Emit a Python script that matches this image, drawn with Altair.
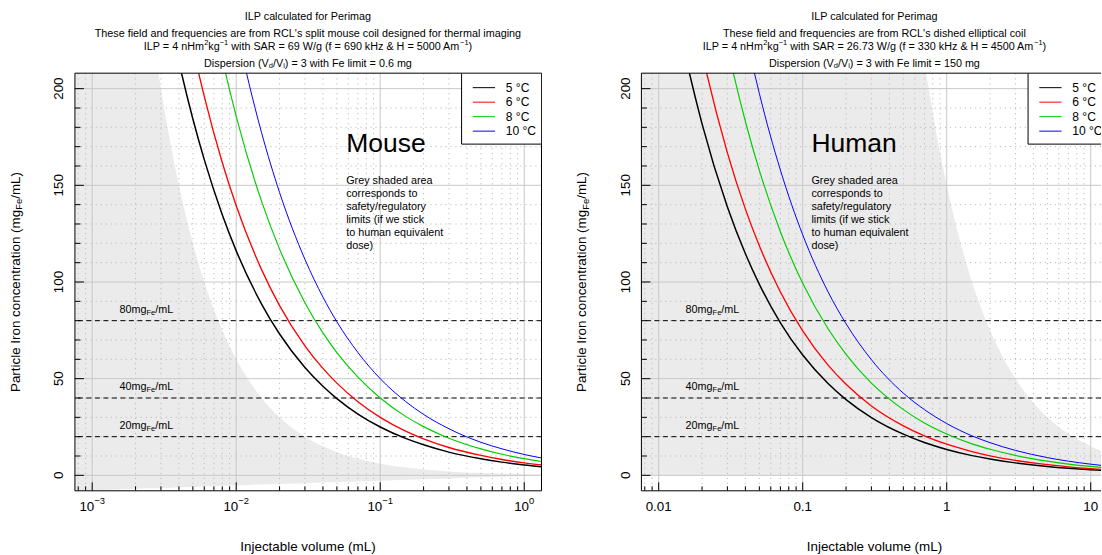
import altair as alt
import pandas as pd

FONT = "Liberation Sans"

# ------------------------------------------------------------------ data
temps = ["5 °C", "6 °C", "8 °C", "10 °C"]
line_colors = ["#000000", "#ff0000", "#00cd00", "#0000ff"]

# Mouse panel: particle iron concentration (mgFe/mL) vs injectable volume (mL)
mouse_volume = [0.003, 0.004, 0.005, 0.006, 0.008, 0.01, 0.015, 0.02, 0.03, 0.04,
                0.05, 0.07, 0.1, 0.15, 0.2, 0.3, 0.5, 0.7, 1.0, 1.32]
mouse_5C = [259.2, 213.9, 184.3, 163.3, 134.8, 116.1, 88.6, 73.1, 55.8, 46.1,
            39.7, 31.7, 25.0, 19.1, 15.8, 12.0, 8.55, 6.83, 5.39, 4.48]
mouse_6C = [311.1, 256.8, 221.3, 196.0, 161.8, 139.4, 106.4, 87.8, 67.0, 55.3,
            47.7, 38.1, 30.0, 22.9, 18.9, 14.4, 10.3, 8.20, 6.47, 5.38]
mouse_8C = [414.4, 342.1, 294.8, 261.1, 215.5, 185.7, 141.7, 117.0, 89.3, 73.7,
            63.5, 50.8, 40.0, 30.5, 25.2, 19.2, 13.7, 10.9, 8.62, 7.16]
mouse_10C = [518.3, 427.9, 368.7, 326.5, 269.5, 232.2, 177.2, 146.3, 111.7, 92.2,
             79.4, 63.5, 50.0, 38.2, 31.5, 24.1, 17.1, 13.7, 10.78, 8.96]
mouse_shade_volume = [0.00076, 0.0015, 0.0025, 0.003, 0.0035, 0.004, 0.005, 0.006,
                      0.008, 0.01, 0.0125, 0.015, 0.02, 0.025, 0.03, 0.04, 0.05,
                      0.06, 0.08, 0.1, 0.15, 0.2, 0.3, 0.5, 0.7, 1.0, 1.32]
mouse_shade_top = [789, 400, 240, 200, 171.4, 150, 120, 100, 75, 60, 48, 40, 30,
                   24, 20, 15, 12, 10, 7.5, 6, 4, 3, 2, 1.2, 0.86, 0.6, 0.45]
mouse_shade_bottom = [-8.0, -7.27, -6.72, -6.53, -6.36, -6.22, -5.98, -5.78, -5.47,
                      -5.23, -4.99, -4.80, -4.49, -4.25, -4.06, -3.75, -3.51, -3.31,
                      -3.01, -2.77, -2.33, -2.02, -1.59, -1.04, -0.68, -0.30, 0.0]
mouse_x_major = [0.001, 0.01, 0.1, 1.0]
mouse_x_minor = [0.0008, 0.0009, 0.002, 0.003, 0.004, 0.005, 0.006, 0.007, 0.008, 0.009,
                 0.02, 0.03, 0.04, 0.05, 0.06, 0.07, 0.08, 0.09,
                 0.2, 0.3, 0.4, 0.5, 0.6, 0.7, 0.8, 0.9]
mouse_x_exponents = ["−3", "−2", "−1", "0"]

# Human panel
human_volume = [0.01, 0.015, 0.02, 0.03, 0.04, 0.05, 0.07, 0.1, 0.15, 0.2, 0.3,
                0.5, 0.7, 1.0, 1.5, 2.0, 3.0, 5.0, 7.0, 10.0, 12.5]
human_5C = [288.6, 220.3, 181.8, 138.8, 114.6, 98.8, 78.9, 62.2, 47.5, 39.2, 29.9,
            21.3, 17.0, 13.4, 10.2, 8.44, 6.45, 4.58, 3.66, 2.89, 2.49]
human_6C = [346.8, 264.7, 218.5, 166.8, 137.7, 118.7, 94.8, 74.7, 57.0, 47.1, 35.9,
            25.6, 20.4, 16.1, 12.3, 10.1, 7.74, 5.51, 4.40, 3.47, 2.99]
human_8C = [461.0, 351.8, 290.4, 221.7, 183.0, 157.7, 126.0, 99.3, 75.8, 62.6, 47.7,
            34.0, 27.1, 21.4, 16.3, 13.5, 10.3, 7.32, 5.84, 4.61, 3.97]
human_10C = [577.3, 440.6, 363.7, 277.6, 229.1, 197.5, 157.9, 124.4, 94.9, 78.4, 59.8,
             42.5, 34.0, 26.8, 20.4, 16.9, 12.9, 9.17, 7.32, 5.77, 4.97]
human_shade_volume = [0.0076, 0.3, 0.5, 0.6, 0.72, 0.85, 1.0, 1.25, 1.5, 2.0, 2.5,
                      3.0, 4.0, 5.0, 6.0, 8.0, 10.0, 12.5]
human_shade_top = [19700, 500, 300, 250, 208.3, 176.5, 150, 120, 100, 75, 60,
                   50, 37.5, 30, 25, 18.75, 15, 12]
human_shade_bottom = [0, 0, 0, 0, 0, 0, 0, 0, 0, 0, 0, 0, 0, 0, 0, 0, 0, 0]
human_x_major = [0.01, 0.1, 1.0, 10.0]
human_x_minor = [0.008, 0.009, 0.02, 0.03, 0.04, 0.05, 0.06, 0.07, 0.08, 0.09,
                 0.2, 0.3, 0.4, 0.5, 0.6, 0.7, 0.8, 0.9,
                 2, 3, 4, 5, 6, 7, 8, 9]
human_x_labels = ["0.01", "0.1", "1", "10"]

y_major = [0, 50, 100, 150, 200]
y_minor = [10, 20, 30, 40, 60, 70, 80, 90, 110, 120, 130, 140, 160, 170, 180, 190]
y_labels = ["0", "50", "100", "150", "200"]
dashed_levels = [80, 40, 20]
dashed_texts = ["80mg", "40mg", "20mg"]

mouse_title = [
    [("ILP calculated for Perimag", "n")],
    [("These field and frequencies are from RCL's split mouse coil designed for thermal imaging", "n")],
    [("ILP = 4 nHm", "n"), ("2", "sup"), ("kg", "n"), ("−1", "sup"),
     (" with SAR = 69 W/g (f = 690 kHz & H = 5000 Am", "n"), ("−1", "sup"), (")", "n")],
    [("Dispersion (V", "n"), ("d", "sub"), ("/V", "n"), ("i", "sub"),
     (") = 3 with Fe limit = 0.6 mg", "n")],
]
human_title = [
    [("ILP calculated for Perimag", "n")],
    [("These field and frequencies are from RCL's dished elliptical coil", "n")],
    [("ILP = 4 nHm", "n"), ("2", "sup"), ("kg", "n"), ("−1", "sup"),
     (" with SAR = 26.73 W/g (f = 330 kHz & H = 4500 Am", "n"), ("−1", "sup"), (")", "n")],
    [("Dispersion (V", "n"), ("d", "sub"), ("/V", "n"), ("i", "sub"),
     (") = 3 with Fe limit = 150 mg", "n")],
]
y_title = [("Particle Iron concentration (mg", "n"), ("Fe", "sub"), ("/mL)", "n")]
x_title = "Injectable volume (mL)"
note_text = "Grey shaded area\ncorresponds to\nsafety/regulatory\nlimits (if we stick\nto human equivalent\ndose)"

# ------------------------------------------------------------------ text metrics (Arial/Helvetica widths)
HELV = {" ": 278, "(": 333, ")": 333, "/": 278, ".": 278, ",": 278, "=": 584, "&": 667,
        "'": 191, "-": 333, "−": 584, "°": 400, ":": 278}
for ch in "0123456789":
    HELV[ch] = 556
HELV.update(dict(zip("abcdefghijklmnopqrstuvwxyz",
                     [556, 556, 500, 556, 556, 278, 556, 556, 222, 222, 500, 222, 833,
                      556, 556, 556, 556, 333, 500, 278, 556, 500, 722, 500, 500, 500])))
HELV.update(dict(zip("ABCDEFGHIJKLMNOPQRSTUVWXYZ",
                     [667, 667, 722, 722, 667, 611, 778, 722, 278, 500, 667, 556, 833,
                      722, 778, 667, 778, 722, 667, 611, 722, 667, 944, 667, 667, 611])))


def tw(s, fs):
    return sum(HELV.get(c, 556) for c in s) * fs / 1000.0


def seg_rows(segs, fs, small, ax, ay, sup_dy=-4.0, sub_dy=2.5, vertical=False):
    widths = [tw(t, fs if k == "n" else small) for t, k in segs]
    pos = -sum(widths) / 2.0
    rows = []
    for (t, k), w in zip(segs, widths):
        size = fs if k == "n" else small
        lead = tw(t[: len(t) - len(t.lstrip(" "))], size)
        off = {"n": 0.0, "sup": sup_dy, "sub": sub_dy}[k]
        if vertical:
            rows.append(dict(px=ax + off, py=ay - (pos + lead), txt=t.strip(), fs=size))
        else:
            rows.append(dict(px=ax + pos + lead, py=ay + off, txt=t.strip(), fs=size))
        pos += w
    return rows


# ------------------------------------------------------------------ layout constants
H = 418
YDOM = [-8, 208]
DEC = 144.14          # pixels per decade in the reference
FS_SMALL = 10.8
FS_SCRIPT = 7.5
FS_AXIS = 13.4
FS_LEG = 12.1
GRID_SOLID = "#c8c8c8"
GRID_DOT = "#bcbcbc"
DOT = [1.2, 3.8]


def panel(p):
    W = p["w"]
    xs = alt.Scale(type="log", domain=p["xdom"], nice=False)
    ys = alt.Scale(domain=YDOM, nice=False, zero=False)

    def X(f):
        return alt.X(f, type="quantitative", scale=xs, axis=None)

    def Y(f):
        return alt.Y(f, type="quantitative", scale=ys, axis=None)

    def PX(f):
        return alt.X(f, type="quantitative", scale=None, axis=None)

    def PY(f):
        return alt.Y(f, type="quantitative", scale=None, axis=None)

    L = []
    # shaded safety area
    shade = pd.DataFrame({"v": p["shade_v"], "top": p["shade_top"], "bot": p["shade_bot"]})
    L.append(alt.Chart(shade).mark_area(color="#ebebeb", clip=True, interpolate="monotone")
             .encode(x=X("v"), y=Y("top"), y2=alt.Y2("bot")))
    # grid
    L.append(alt.Chart(pd.DataFrame({"v": p["xmaj"]})).mark_rule(color=GRID_SOLID, strokeWidth=1, clip=True)
             .encode(x=X("v")))
    L.append(alt.Chart(pd.DataFrame({"v": p["xmin"]})).mark_rule(color=GRID_DOT, strokeWidth=1,
                                                                   strokeDash=DOT, clip=True)
             .encode(x=X("v")))
    L.append(alt.Chart(pd.DataFrame({"c": y_major})).mark_rule(color=GRID_SOLID, strokeWidth=1, clip=True)
             .encode(y=Y("c")))
    L.append(alt.Chart(pd.DataFrame({"c": y_minor})).mark_rule(color=GRID_DOT, strokeWidth=1,
                                                                 strokeDash=DOT, clip=True)
             .encode(y=Y("c")))
    # dashed reference levels
    L.append(alt.Chart(pd.DataFrame({"c": dashed_levels})).mark_rule(color="black", strokeWidth=1,
                                                                       strokeDash=[5, 3.5], clip=True)
             .encode(y=Y("c")))
    # curves
    rows = []
    for t, s in zip(temps, p["series"]):
        for v, c in zip(p["vol"], s):
            rows.append({"v": v, "c": c, "temp": t})
    L.append(alt.Chart(pd.DataFrame(rows)).mark_line(clip=True, interpolate="monotone")
             .encode(x=X("v"), y=Y("c"),
                     color=alt.Color("temp:N", scale=alt.Scale(domain=temps, range=line_colors), legend=None),
                     strokeWidth=alt.StrokeWidth("temp:N", scale=alt.Scale(domain=temps, range=p["lw"]),
                                                 legend=None)))
    # inward ticks
    L.append(alt.Chart(pd.DataFrame({"v": p["xmaj"]})).mark_rule(color="black", strokeWidth=1, clip=True)
             .encode(x=X("v"), y=alt.value(H), y2=alt.value(H - 8.5)))
    L.append(alt.Chart(pd.DataFrame({"v": p["xmin"]})).mark_rule(color="black", strokeWidth=1, clip=True)
             .encode(x=X("v"), y=alt.value(H), y2=alt.value(H - 4.5)))
    L.append(alt.Chart(pd.DataFrame({"c": y_major})).mark_rule(color="black", strokeWidth=1)
             .encode(y=Y("c"), x=alt.value(0), x2=alt.value(9)))
    L.append(alt.Chart(pd.DataFrame({"c": y_minor})).mark_rule(color="black", strokeWidth=1)
             .encode(y=Y("c"), x=alt.value(0), x2=alt.value(5.5)))
    # frame
    fr = [dict(x1=0, x2=W, y1=0, y2=0), dict(x1=0, x2=W, y1=H, y2=H), dict(x1=0, x2=0, y1=0, y2=H)]
    if p["right_border"]:
        fr.append(dict(x1=W, x2=W, y1=0, y2=H))
    L.append(alt.Chart(pd.DataFrame(fr)).mark_rule(color="black", strokeWidth=1)
             .encode(x=PX("x1"), x2=alt.X2("x2"), y=PY("y1"), y2=alt.Y2("y2")))
    # y tick labels
    L.append(alt.Chart(pd.DataFrame({"c": y_major, "t": y_labels}))
             .mark_text(font=FONT, fontSize=FS_AXIS, angle=270, align="center", baseline="middle", color="black")
             .encode(y=Y("c"), x=alt.value(-15.5), text="t:N"))
    # x tick labels
    ylab = H + 16.2
    if p["xlab_mode"] == "pow":
        df = pd.DataFrame({"v": p["xmaj"], "e": p["xexp"]})
        w10 = tw("10", FS_AXIS)
        for e_w in sorted(set(round(tw(e, 9.4), 2) for e in p["xexp"])):
            sub = df[[round(tw(e, 9.4), 2) == e_w for e in df["e"]]].copy()
            sub["b"] = "10"
            total = w10 + e_w
            L.append(alt.Chart(sub).mark_text(font=FONT, fontSize=FS_AXIS, align="left", baseline="middle",
                                              dx=-total / 2, color="black")
                     .encode(x=X("v"), y=alt.value(ylab), text="b:N"))
            L.append(alt.Chart(sub).mark_text(font=FONT, fontSize=9.4, align="left", baseline="middle",
                                              dx=-total / 2 + w10, dy=-5.7, color="black")
                     .encode(x=X("v"), y=alt.value(ylab), text="e:N"))
    else:
        L.append(alt.Chart(pd.DataFrame({"v": p["xmaj"], "t": p["xtext"]}))
                 .mark_text(font=FONT, fontSize=FS_AXIS, align="center", baseline="middle", color="black")
                 .encode(x=X("v"), y=alt.value(ylab), text="t:N"))
    # dashed level labels  (e.g. 80mg_Fe/mL)
    lab = pd.DataFrame({"v": [p["label_v"]] * 3, "c": [lv + 5.5 for lv in dashed_levels],
                        "t": dashed_texts, "s": ["Fe"] * 3, "u": ["/mL"] * 3})
    w1 = tw("80mg", FS_SMALL)
    w2 = tw("Fe", FS_SCRIPT)
    L.append(alt.Chart(lab).mark_text(font=FONT, fontSize=FS_SMALL, align="left", baseline="middle", color="black")
             .encode(x=X("v"), y=Y("c"), text="t:N"))
    L.append(alt.Chart(lab).mark_text(font=FONT, fontSize=FS_SCRIPT, align="left", baseline="middle",
                                      dx=w1, dy=3, color="black")
             .encode(x=X("v"), y=Y("c"), text="s:N"))
    L.append(alt.Chart(lab).mark_text(font=FONT, fontSize=FS_SMALL, align="left", baseline="middle",
                                      dx=w1 + w2, color="black")
             .encode(x=X("v"), y=Y("c"), text="u:N"))
    # big name and note
    L.append(alt.Chart(pd.DataFrame({"v": [p["name_v"]], "c": [167.1], "t": [p["name"]]}))
             .mark_text(font=FONT, fontSize=26.5, align="left", baseline="alphabetic", color="black")
             .encode(x=X("v"), y=Y("c"), text="t:N"))
    L.append(alt.Chart(pd.DataFrame({"v": [p["name_v"]], "c": [155.4], "t": [note_text]}))
             .mark_text(font=FONT, fontSize=FS_SMALL, align="left", baseline="top", lineHeight=13,
                        lineBreak="\n", color="black")
             .encode(x=X("v"), y=Y("c"), text="t:N"))
    # legend box
    L.append(alt.Chart(pd.DataFrame({"a": [0]})).mark_rect(fill="white", stroke="black", strokeWidth=1, clip=True)
             .encode(x=alt.value(387.0), x2=alt.value(467.0), y=alt.value(0), y2=alt.value(71.0)))
    leg = pd.DataFrame({"temp": temps, "ly": [14.5 + 14.5 * i for i in range(4)]})
    L.append(alt.Chart(leg).mark_rule(strokeWidth=1, clip=True)
             .encode(x=alt.value(398.2), x2=alt.value(420.5), y=PY("ly"),
                     color=alt.Color("temp:N", scale=alt.Scale(domain=temps, range=line_colors), legend=None)))
    L.append(alt.Chart(leg).mark_text(font=FONT, fontSize=FS_LEG, align="left", baseline="middle",
                                      color="black", clip=True)
             .encode(x=alt.value(431.2), y=PY("ly"), text="temp:N"))
    # titles (rich text with super/subscripts)
    rows = []
    cx = 233.3
    for segs, yy in zip(p["title"], [-55.8, -39.2, -26.3, -9.5]):
        rows += seg_rows(segs, FS_SMALL, FS_SCRIPT, cx, yy)
    rows += seg_rows([(x_title, "n")], FS_AXIS, FS_AXIS, cx, 474.0)
    L.append(alt.Chart(pd.DataFrame(rows)).mark_text(font=FONT, align="left", baseline="middle", color="black")
             .encode(x=PX("px"), y=PY("py"), text="txt:N", size=alt.Size("fs:Q", scale=None)))
    vrows = seg_rows(y_title, FS_AXIS, 9.4, -59.0, H / 2.0, sub_dy=3.5, vertical=True)
    L.append(alt.Chart(pd.DataFrame(vrows)).mark_text(font=FONT, align="left", baseline="middle",
                                                      angle=270, color="black")
             .encode(x=PX("px"), y=PY("py"), text="txt:N", size=alt.Size("fs:Q", scale=None)))
    if p["pin"]:
        L.append(alt.Chart(pd.DataFrame({"a": [0]})).mark_rule(opacity=0, strokeWidth=0)
                 .encode(x=alt.value(-74.5), x2=alt.value(-74.5), y=alt.value(-72.5), y2=alt.value(-72.5)))
    return alt.layer(*L).properties(width=W, height=H)


LEFT_W = 467
RIGHT_W = 460
mouse = dict(
    w=LEFT_W, xdom=[10 ** -3.12, 10 ** (-3.12 + LEFT_W / DEC)],
    vol=mouse_volume, series=[mouse_5C, mouse_6C, mouse_8C, mouse_10C], lw=[1.5, 1.0, 1.0, 1.0],
    shade_v=mouse_shade_volume, shade_top=mouse_shade_top, shade_bot=mouse_shade_bottom,
    xmaj=mouse_x_major, xmin=mouse_x_minor, xlab_mode="pow", xexp=mouse_x_exponents,
    label_v=0.001545, name_v=0.058, name="Mouse", title=mouse_title, right_border=True, pin=True)
human = dict(
    w=RIGHT_W, xdom=[10 ** -2.12, 10 ** (-2.12 + RIGHT_W / DEC)],
    vol=human_volume, series=[human_5C, human_6C, human_8C, human_10C], lw=[1.0, 1.0, 1.0, 1.0],
    shade_v=human_shade_volume, shade_top=human_shade_top, shade_bot=human_shade_bottom,
    xmaj=human_x_major, xmin=human_x_minor, xlab_mode="plain", xtext=human_x_labels,
    label_v=0.01537, name_v=0.115, name="Human", title=human_title, right_border=False, pin=False)

chart = (alt.hconcat(panel(mouse), panel(human), spacing=100, bounds="flush")
         .properties(padding=0, background="white")
         .configure_view(stroke=None))

chart.save("out.html", embed_options={"renderer": "svg", "actions": False})
